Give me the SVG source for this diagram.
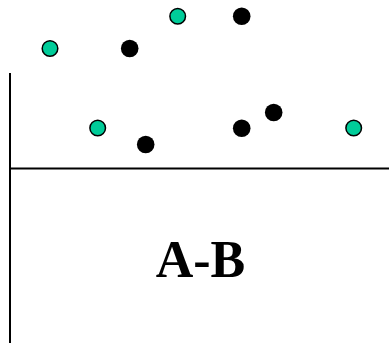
<svg xmlns="http://www.w3.org/2000/svg" width="389" height="343" viewBox="0 0 389 343">
<style>
.g{fill:#00cc99;stroke:#000;stroke-width:1.5}
.k{fill:#000}
.ax{stroke:#000;stroke-width:2;fill:none}
.lbl{font-family:"Liberation Serif","Times New Roman",serif;font-weight:bold;font-size:52px;fill:#000}
</style>
<rect width="389" height="343" fill="#fff"/>
<g id="axes">
<line class="ax" x1="10" y1="73" x2="10" y2="343"/>
<line class="ax" x1="10" y1="168.5" x2="389" y2="168.5"/>
</g>
<g id="points">
<circle class="g" cx="50" cy="48.5" r="7.8"/>
<circle class="g" cx="177.7" cy="16.3" r="7.8"/>
<circle class="g" cx="97.7" cy="128" r="7.8"/>
<circle class="g" cx="353.7" cy="128" r="7.8"/>
<circle class="k" cx="129.7" cy="48.5" r="8.8"/>
<circle class="k" cx="241.7" cy="16.3" r="8.8"/>
<circle class="k" cx="145.7" cy="144.5" r="8.8"/>
<circle class="k" cx="241.7" cy="128.3" r="8.8"/>
<circle class="k" cx="273.7" cy="112.5" r="8.8"/>
</g>
<g id="label">
<text class="lbl" x="200.5" y="277" text-anchor="middle">A-B</text>
</g>
</svg>
